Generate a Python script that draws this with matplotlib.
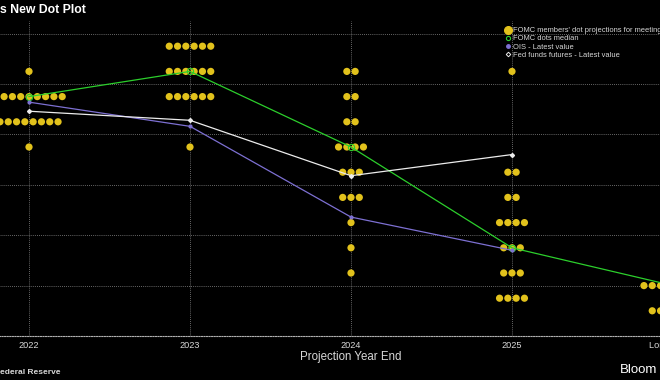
import matplotlib
matplotlib.use("Agg")
import matplotlib.pyplot as plt
from matplotlib.lines import Line2D
import numpy as np

plt.rcParams['font.family'] = ['Liberation Sans', 'DejaVu Sans']

# ---- data ----
years = ["2022", "2023", "2024", "2025", "Longer Run"]

dots_2022_rates = [4.625, 4.375, 4.125, 3.875]
dots_2022_counts = [1, 9, 8, 1]
dots_2023_rates = [4.875, 4.625, 4.375, 3.875]
dots_2023_counts = [6, 6, 6, 1]
dots_2024_rates = [4.625, 4.375, 4.125, 3.875, 3.625, 3.375, 3.125, 2.875, 2.625]
dots_2024_counts = [2, 2, 2, 4, 3, 3, 1, 1, 1]
dots_2025_rates = [4.625, 3.625, 3.375, 3.125, 2.875, 2.625, 2.375]
dots_2025_counts = [1, 2, 2, 4, 3, 3, 4]
dots_lr_rates = [3.5, 3.0, 2.75, 2.5, 2.25]
dots_lr_counts = [1, 2, 2, 8, 6]

median_vals = [4.375, 4.625, 3.875, 2.875, 2.5]
ois_vals = [4.32, 4.08, 3.18, 2.85]
futures_vals = [4.23, 4.14, 3.59, 3.80]

dot_rates = [dots_2022_rates, dots_2023_rates, dots_2024_rates, dots_2025_rates, dots_lr_rates]
dot_counts = [dots_2022_counts, dots_2023_counts, dots_2024_counts, dots_2025_counts, dots_lr_counts]

legend_labels = ["FOMC members' dot projections for meeting date",
                 "FOMC dots median",
                 "OIS - Latest value",
                 "Fed funds futures - Latest value"]

# ---- styles ----
BG = "black"
YELLOW = "#e2c21c"
GREEN = "#2ccf2c"
PURPLE = "#7d70d2"
WHITE = "#ececec"
GRID = "#8a8a8a"
TXT = "#d8d8d8"

W, H = 660, 380
fig = plt.figure(figsize=(6.6, 3.8), dpi=100, facecolor=BG)

# axes placed so that the chart is cropped as in the reference
x0_px, step_px = 29.0, 161.0
xlim = (-0.5, 4.5)
left_px = x0_px + step_px * xlim[0]
right_px = x0_px + step_px * xlim[1]
ylim = (2.0, 5.125)
bottom_px, top_px = 336.0, 21.0
ax = fig.add_axes([left_px / W, 1 - bottom_px / H,
                   (right_px - left_px) / W, (bottom_px - top_px) / H])
ax.set_facecolor(BG)
ax.set_xlim(*xlim)
ax.set_ylim(*ylim)

# grid
ax.set_xticks(range(len(years)))
ax.set_xticklabels(years)
ax.set_yticks(np.arange(2.0, 5.01, 0.5))
ax.set_yticklabels([])
ax.grid(True, color=GRID, linestyle=(0, (1, 1.5)), linewidth=0.6)
ax.set_axisbelow(True)
for s in ["left", "right", "top"]:
    ax.spines[s].set_visible(False)
ax.spines["bottom"].set_color("#b0b0b0")
ax.spines["bottom"].set_linestyle((0, (1, 1.3)))
ax.spines["bottom"].set_linewidth(0.8)
ax.tick_params(axis="x", length=0, pad=3.5, labelsize=6.6, colors=TXT)
ax.tick_params(axis="y", length=0)
ax.set_xlabel("Projection Year End", color=TXT, fontsize=8.3, labelpad=1)

# dots
spacing = 8.3 / step_px
for i, (rates, counts) in enumerate(zip(dot_rates, dot_counts)):
    xs, ys = [], []
    for r, c in zip(rates, counts):
        for j in range(c):
            xs.append(i + (j - (c - 1) / 2.0) * spacing)
            ys.append(r)
    ax.scatter(xs, ys, s=27, color=YELLOW, edgecolors="none", zorder=3)

xi = np.arange(len(years))
ax.plot(xi, median_vals, color=GREEN, lw=0.9, marker="o", ms=4.5,
        mfc="none", mec=GREEN, mew=0.8, zorder=4)
ax.plot(xi[:len(ois_vals)], ois_vals, color=PURPLE, lw=0.9, marker="o",
        ms=2, mfc=PURPLE, mec=PURPLE, zorder=5)
ax.plot(xi[:len(futures_vals)], futures_vals, color=WHITE, lw=0.9, marker="D",
        ms=2, mfc=WHITE, mec=WHITE, zorder=6)

# legend
handles = [
    Line2D([], [], ls="none", marker="o", ms=5.5, mfc=YELLOW, mec=YELLOW),
    Line2D([], [], ls="none", marker="o", ms=3, mfc="none", mec=GREEN, mew=0.8),
    Line2D([], [], ls="none", marker="o", ms=2.5, mfc=PURPLE, mec=PURPLE),
    Line2D([], [], ls="none", marker="D", ms=2.3, mfc="none", mec=WHITE, mew=0.7),
]
leg = fig.legend(handles, legend_labels, loc="upper left",
                 bbox_to_anchor=(504 / W, 1 - 27 / H), bbox_transform=fig.transFigure,
                 frameon=False, fontsize=5.4, labelcolor=TXT, handlelength=1.0,
                 handletextpad=0.25, labelspacing=0.12, borderpad=0, borderaxespad=0)

# title / footer (visible parts of the cropped reference)
fig.text(0 / W, 1 - 10 / H, "s New Dot Plot", ha="left", va="center",
         color="white", fontsize=8.8, fontweight="bold")
fig.text(0 / W, 1 - 372 / H, "ederal Reserve", ha="left", va="center",
         color=TXT, fontsize=6, fontweight="bold")
fig.text(620 / W, 1 - 370 / H, "Bloom", ha="left", va="center",
         color="white", fontsize=9.5)

fig.savefig("out.png", dpi=100, facecolor=BG)
